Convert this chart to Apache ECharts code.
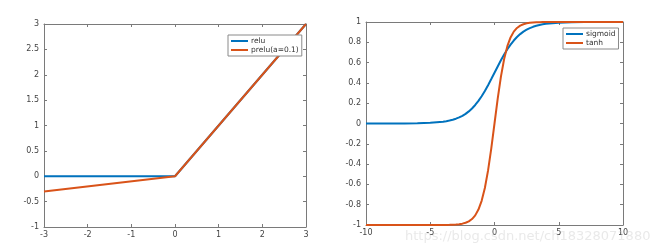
<!DOCTYPE html>
<html>
<head>
<meta charset="utf-8">
<script src="https://cdn.jsdelivr.net/npm/echarts@6/dist/echarts.min.js"></script>
<style>html,body{margin:0;padding:0;background:#fff}#c{width:650px;height:250px}</style>
</head>
<body>
<div id="c"></div>
<script>
// Left plot data
const reluX = [-3, 0, 3];
const reluY = [0, 0, 3];
const preluX = [-3, 0, 3];
const preluY = [-0.3, 0, 3];
// Right plot data
const actX = [-10, -9, -8, -7, -6, -5, -4, -3.75, -3.5, -3.25, -3, -2.75, -2.5, -2.25, -2, -1.75, -1.5, -1.25, -1, -0.75, -0.5, -0.25, 0, 0.25, 0.5, 0.75, 1, 1.25, 1.5, 1.75, 2, 2.25, 2.5, 2.75, 3, 3.25, 3.5, 3.75, 4, 5, 6, 7, 8, 9, 10];
const sigmoidY = [0.0000, 0.0001, 0.0003, 0.0009, 0.0025, 0.0067, 0.0180, 0.0230, 0.0293, 0.0374, 0.0474, 0.0601, 0.0759, 0.0953, 0.1192, 0.1480, 0.1824, 0.2227, 0.2689, 0.3208, 0.3775, 0.4378, 0.5000, 0.5622, 0.6225, 0.6792, 0.7311, 0.7773, 0.8176, 0.8520, 0.8808, 0.9047, 0.9241, 0.9399, 0.9526, 0.9626, 0.9707, 0.9770, 0.9820, 0.9933, 0.9975, 0.9991, 0.9997, 0.9999, 1.0000];
const tanhY = [-1.0000, -1.0000, -1.0000, -1.0000, -1.0000, -0.9999, -0.9993, -0.9989, -0.9982, -0.9970, -0.9951, -0.9918, -0.9866, -0.9780, -0.9640, -0.9414, -0.9051, -0.8483, -0.7616, -0.6351, -0.4621, -0.2449, 0.0000, 0.2449, 0.4621, 0.6351, 0.7616, 0.8483, 0.9051, 0.9414, 0.9640, 0.9780, 0.9866, 0.9918, 0.9951, 0.9970, 0.9982, 0.9989, 0.9993, 0.9999, 1.0000, 1.0000, 1.0000, 1.0000, 1.0000];
// Axis ranges / ticks
const leftXRange = [-3, 3, 1];
const leftYRange = [-1, 3, 0.5];
const rightXRange = [-10, 10, 5];
const rightYRange = [-1, 1, 0.2];
const legendLeft = ['relu', 'prelu(a=0.1)'];
const legendRight = ['sigmoid', 'tanh'];

const pairs = (xs, ys) => xs.map((x, i) => [x, ys[i]]);
const BLUE = '#0072BD', ORANGE = '#D95319', AX = '#7a7a7a', LAB = '#444';

function axis(type, gridIndex, r, pos, showLabel) {
  return {
    type: 'value', gridIndex, position: pos, min: r[0], max: r[1], interval: r[2],
    axisLine: { show: true, onZero: false, lineStyle: { color: AX, width: 1 } },
    axisTick: { show: true, inside: true, length: 3, lineStyle: { color: AX } },
    axisLabel: { show: showLabel, color: LAB, fontSize: 8, fontFamily: 'DejaVu Sans', margin: type === 'x' ? 4 : 5 },
    splitLine: { show: false }
  };
}
function legend(names, left, top) {
  return {
    data: names, orient: 'vertical', left, top,
    backgroundColor: '#fff', borderColor: '#8a8a8a', borderWidth: 1, borderRadius: 0,
    padding: [2, 3, 2, 3], itemGap: 1, itemWidth: 17, itemHeight: 2, icon: 'rect',
    textStyle: { fontSize: 7.5, color: '#333', fontFamily: 'DejaVu Sans', padding: [0, 0, 0, -2] }
  };
}
const line = (name, data, color, xi, yi) => ({
  name, type: 'line', data, xAxisIndex: xi, yAxisIndex: yi, showSymbol: false, symbol: 'none',
  lineStyle: { color, width: 2 }, itemStyle: { color }, animation: false, clip: true
});

const chart = echarts.init(document.getElementById('c'), null, { renderer: 'canvas' });
chart.setOption({
  animation: false,
  backgroundColor: '#fff',
  grid: [
    { left: 44, top: 24, width: 262, height: 203 },
    { left: 366, top: 22, width: 257, height: 203 }
  ],
  xAxis: [
    axis('x', 0, leftXRange, 'bottom', true),
    axis('x', 0, leftXRange, 'top', false),
    axis('x', 1, rightXRange, 'bottom', true),
    axis('x', 1, rightXRange, 'top', false)
  ],
  yAxis: [
    axis('y', 0, leftYRange, 'left', true),
    axis('y', 0, leftYRange, 'right', false),
    axis('y', 1, rightYRange, 'left', true),
    axis('y', 1, rightYRange, 'right', false)
  ],
  legend: [legend(legendLeft, 228, 35), legend(legendRight, 563, 28)],
  series: [
    line('relu', pairs(reluX, reluY), BLUE, 0, 0),
    line('prelu(a=0.1)', pairs(preluX, preluY), ORANGE, 0, 0),
    line('sigmoid', pairs(actX, sigmoidY), BLUE, 2, 2),
    line('tanh', pairs(actX, tanhY), ORANGE, 2, 2)
  ],
  graphic: [{
    type: 'text', left: 405, top: 230, silent: true, z: 100,
    style: { text: 'https://blog.csdn.net/ch18328071880', fontSize: 13, fontFamily: 'DejaVu Sans', fill: 'rgba(200,200,200,0.4)' }
  }]
});
</script>
</body>
</html>
